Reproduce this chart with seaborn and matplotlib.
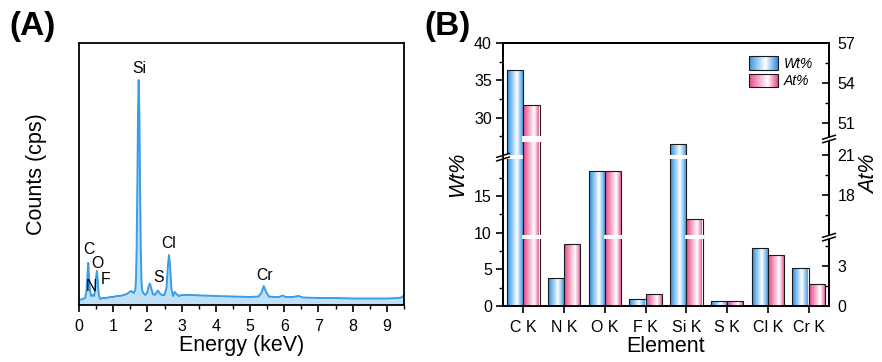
import numpy as np
import pandas as pd
import matplotlib
matplotlib.use("Agg")
import matplotlib.pyplot as plt
import seaborn as sns
from matplotlib.colors import LinearSegmentedColormap
from matplotlib.patches import Rectangle, Patch, Polygon
from matplotlib.legend_handler import HandlerBase
from matplotlib.ticker import MultipleLocator, FixedLocator, FormatStrFormatter

# ---------------- data ----------------
energy = [0.00, 0.10, 0.18, 0.22, 0.25, 0.27, 0.29, 0.32, 0.36, 0.40, 0.44, 0.47, 0.50, 0.525,
          0.55, 0.58, 0.62, 0.70, 0.80, 0.90, 1.00, 1.10, 1.20, 1.30, 1.40, 1.47, 1.53, 1.60,
          1.645, 1.665, 1.685, 1.705, 1.725, 1.745, 1.765, 1.785, 1.805, 1.825, 1.845, 1.88,
          1.94, 1.99, 2.03, 2.07, 2.11, 2.16, 2.22, 2.27, 2.31, 2.35, 2.42, 2.50, 2.56, 2.60,
          2.63, 2.66, 2.70, 2.75, 2.80, 2.85, 2.92, 3.00, 3.30, 3.60, 4.00, 4.50, 5.00, 5.25,
          5.33, 5.40, 5.47, 5.55, 5.70, 5.85, 5.95, 6.05, 6.25, 6.41, 6.55, 7.00, 7.50, 8.00,
          8.50, 9.00, 9.35, 9.45, 9.50]
counts = [5, 6, 7, 15, 32, 42, 30, 14, 9, 10, 9, 14, 28, 34,
          24, 10, 6, 7, 7, 8, 8, 9, 9, 10, 11, 13, 14, 12,
          15, 25, 57, 118, 191, 225, 191, 118, 57, 25, 15, 12,
          10, 12, 18, 21.5, 17, 11, 10, 13, 14.5, 12, 10, 10, 18, 40,
          50, 40, 17, 9, 13, 11, 9, 10, 10, 9.5, 9, 8.5, 8, 8.5,
          12, 19, 13, 8.5, 8, 8, 9.5, 8, 8, 9, 7.5, 7, 7, 6.5,
          6.5, 6.5, 7, 8, 10]

peak_labels = ["Si", "C", "O", "N", "F", "S", "Cl", "Cr"]
peak_x = [1.75, 0.30, 0.535, 0.37, 0.77, 2.33, 2.63, 5.41]
peak_y = [236.7, 55, 41, 18.3, 25, 27.3, 61.7, 30]

elements = ["C K", "N K", "O K", "F K", "Si K", "S K", "Cl K", "Cr K"]
wt_pct = [36.4, 3.8, 18.4, 1.0, 26.5, 0.7, 7.9, 5.2]
at_pct = [52.35, 4.65, 19.8, 0.9, 16.2, 0.37, 3.83, 1.65]

wt_ticks = [0, 5, 10, 15, 30, 35, 40]
wt_minor = [2.5, 7.5, 12.5, 17.5, 27.5, 32.5, 37.5]
at_ticks = [0, 3, 18, 21, 51, 54, 57]
at_minor = [1.5, 4.5, 16.5, 19.5, 52.5, 55.5]

# ---------------- style ----------------
sns.set_style("ticks")
plt.rcParams["font.family"] = ["Liberation Sans", "DejaVu Sans"]
plt.rcParams["axes.linewidth"] = 1.3
plt.rcParams["xtick.labelsize"] = 11.5
plt.rcParams["ytick.labelsize"] = 11.5
for k in ["text.color", "axes.labelcolor", "xtick.color", "ytick.color", "axes.edgecolor"]:
    plt.rcParams[k] = "black"

line_c = "#3a9de6"
fill_c = "#bfe0f7"
blue = "#2b8fe3"
pink = "#e6488a"
cmap_b = LinearSegmentedColormap.from_list("b", [(0, blue), (0.58, "#ffffff"), (1, blue)])
cmap_p = LinearSegmentedColormap.from_list("p", [(0, pink), (0.66, "#ffffff"), (1, pink)])

fig = plt.figure(figsize=(8.82, 3.62), dpi=100)
axA = fig.add_axes([79 / 882, 1 - 305 / 362, 325 / 882, 262 / 362])
axB = fig.add_axes([503 / 882, 1 - 306 / 362, 326 / 882, 263 / 362])

# ---------------- panel A ----------------
sns.lineplot(x=energy, y=counts, color=line_c, lw=1.4, ax=axA, sort=True)
axA.fill_between(energy, counts, 0, color=fill_c, lw=0, zorder=1)
for lab, x, y in zip(peak_labels, peak_x, peak_y):
    axA.text(x, y, lab, ha="center", va="center", fontsize=11.3)
axA.set_xlim(0, 9.5)
axA.set_ylim(0, 262)
axA.set_yticks([])
axA.set_xticks(range(10))
axA.xaxis.set_minor_locator(MultipleLocator(0.5))
axA.tick_params(axis="x", which="major", direction="out", length=5, width=1.2, pad=5)
axA.tick_params(axis="x", which="minor", direction="out", length=3, width=1.0)
axA.set_xlabel("Energy (keV)", fontsize=15.5, labelpad=1)
axA.set_ylabel("Counts (cps)", fontsize=15.5, labelpad=23)
for s in axA.spines.values():
    s.set_linewidth(1.3)

# ---------------- panel B ----------------
df_wt = pd.DataFrame({"Element": elements, "Series": "Wt%", "Value": wt_pct})
df_at = pd.DataFrame({"Element": elements, "Series": "At%", "Value": at_pct})
pal = {"Wt%": blue, "At%": pink}

sns.barplot(data=df_wt, x="Element", y="Value", hue="Series", hue_order=["Wt%", "At%"],
            palette=pal, dodge=True, width=0.8, ax=axB, legend=False,
            edgecolor="#1a1a1a", linewidth=0.8)
axB2 = axB.twinx()
sns.barplot(data=df_at, x="Element", y="Value", hue="Series", hue_order=["Wt%", "At%"],
            palette=pal, dodge=True, width=0.8, ax=axB2, legend=False,
            edgecolor="#1a1a1a", linewidth=0.8)

grad = np.linspace(0, 1, 256).reshape(1, -1)


def bar_patches(ax):
    out = []
    for c in ax.containers:
        out.extend(list(c))
    return out


def gradient_bars(ax, cmap):
    for p in bar_patches(ax):
        x0, w, h = p.get_x(), p.get_width(), p.get_height()
        ax.imshow(grad, cmap=cmap, extent=(x0, x0 + w, 0, h), aspect="auto",
                  origin="lower", interpolation="bilinear", zorder=1.5)
        p.set_facecolor("none")
        p.set_zorder(2)


gradient_bars(axB, cmap_b)
gradient_bars(axB2, cmap_p)


def piecewise(xp, fp):
    xp = np.asarray(xp, float)
    fp = np.asarray(fp, float)

    def make(a, b):
        def f(v):
            v = np.asarray(v, float)
            out = np.interp(v, a, b)
            lo_s = (b[1] - b[0]) / (a[1] - a[0])
            hi_s = (b[-1] - b[-2]) / (a[-1] - a[-2])
            out = np.where(v < a[0], b[0] + (v - a[0]) * lo_s, out)
            out = np.where(v > a[-1], b[-1] + (v - a[-1]) * hi_s, out)
            return out
        return f
    return make(xp, fp), make(fp, xp)


wt_gaps = [(20, 25)]
at_gaps = [(5, 15), (22, 50)]
fw, iw = piecewise([0, 20, 25, 40], [0, 146.6, 151, 263])
fa, ia = piecewise([0, 5, 15, 22, 50, 57], [0, 66.7, 71, 164.3, 169.7, 263])

axB.set_yscale("function", functions=(fw, iw))
axB2.set_yscale("function", functions=(fa, ia))
axB.set_xlim(-0.5, len(elements) - 0.5)
axB.set_ylim(0, 40)
axB2.set_ylim(0, 57)


def gap_rects(ax, gaps):
    for p in bar_patches(ax):
        for lo, hi in gaps:
            if p.get_height() > hi:
                ax.add_patch(Rectangle((p.get_x() - 0.03, lo), p.get_width() + 0.06, hi - lo,
                                       facecolor="white", edgecolor="none", zorder=4))


gap_rects(axB, wt_gaps)
gap_rects(axB2, at_gaps)

axB.yaxis.set_major_locator(FixedLocator(wt_ticks))
axB.yaxis.set_minor_locator(FixedLocator(wt_minor))
axB2.yaxis.set_major_locator(FixedLocator(at_ticks))
axB2.yaxis.set_minor_locator(FixedLocator(at_minor))
axB.yaxis.set_major_formatter(FormatStrFormatter("%g"))
axB2.yaxis.set_major_formatter(FormatStrFormatter("%g"))

axB.tick_params(axis="y", which="major", direction="out", length=5, width=1.2, pad=3)
axB.tick_params(axis="y", which="minor", direction="out", length=3, width=1.0)
axB.tick_params(axis="x", which="major", direction="out", length=5, width=1.2, pad=5)
axB2.tick_params(axis="y", which="major", direction="in", length=5, width=1.2, pad=6)
axB2.tick_params(axis="y", which="minor", direction="in", length=3, width=1.0)
for a in (axB, axB2):
    for s in a.spines.values():
        s.set_linewidth(1.3)

axB.set_xlabel("Element", fontsize=15.5, labelpad=1)
axB.set_ylabel("Wt%", fontsize=15.5, fontstyle="italic", labelpad=4)
axB2.set_ylabel("At%", fontsize=15.5, fontstyle="italic", labelpad=3)


def draw_break(ax, xa, yval):
    ya = ax.transAxes.inverted().transform(ax.transData.transform((0, yval)))[1]
    W, H = ax.bbox.width, ax.bbox.height
    dx, dy, sep = 6.5 / W, 2.0 / H, 1.8 / H
    poly = Polygon([(xa - dx, ya - dy - sep), (xa + dx, ya + dy - sep),
                    (xa + dx, ya + dy + sep), (xa - dx, ya - dy + sep)],
                   closed=True, transform=ax.transAxes, facecolor="white",
                   edgecolor="none", clip_on=False, zorder=10)
    ax.add_patch(poly)
    for s in (-sep, sep):
        ax.plot([xa - dx, xa + dx], [ya - dy + s, ya + dy + s], transform=ax.transAxes,
                color="black", lw=1.1, clip_on=False, zorder=11)


for lo, hi in wt_gaps:
    draw_break(axB, 0, (lo + hi) / 2)
for lo, hi in at_gaps:
    draw_break(axB2, 1, (lo + hi) / 2)
axB.set_ylim(0, 40)
axB2.set_ylim(0, 57)


class GradHandler(HandlerBase):
    def __init__(self, cmap):
        super().__init__()
        self.cmap = cmap

    def create_artists(self, legend, orig_handle, xdescent, ydescent, width, height, fontsize, trans):
        n = 40
        arts = []
        for i in range(n):
            arts.append(Rectangle((-xdescent + i * width / n, -ydescent), width / n * 1.08, height,
                                  facecolor=self.cmap((i + 0.5) / n), edgecolor="none", transform=trans))
        arts.append(Rectangle((-xdescent, -ydescent), width, height, facecolor="none",
                              edgecolor="#1a1a1a", lw=0.8, transform=trans))
        return arts


h_wt = Patch(label="Wt%")
h_at = Patch(label="At%")
leg = axB2.legend(handles=[h_wt, h_at], labels=["Wt%", "At%"],
                  handler_map={h_wt: GradHandler(cmap_b), h_at: GradHandler(cmap_p)},
                  loc="upper right", bbox_to_anchor=(0.95, 0.95), frameon=False,
                  borderpad=0, borderaxespad=0, handlelength=2.1, handleheight=1.15,
                  handletextpad=0.4, labelspacing=0.2,
                  prop={"size": 10, "style": "italic"})

fig.text(9 / 882, 1 - 27 / 362, "(A)", fontsize=24, fontweight="bold", va="center", ha="left")
fig.text(424 / 882, 1 - 27 / 362, "(B)", fontsize=24, fontweight="bold", va="center", ha="left")

fig.savefig("out.png", dpi=100)
